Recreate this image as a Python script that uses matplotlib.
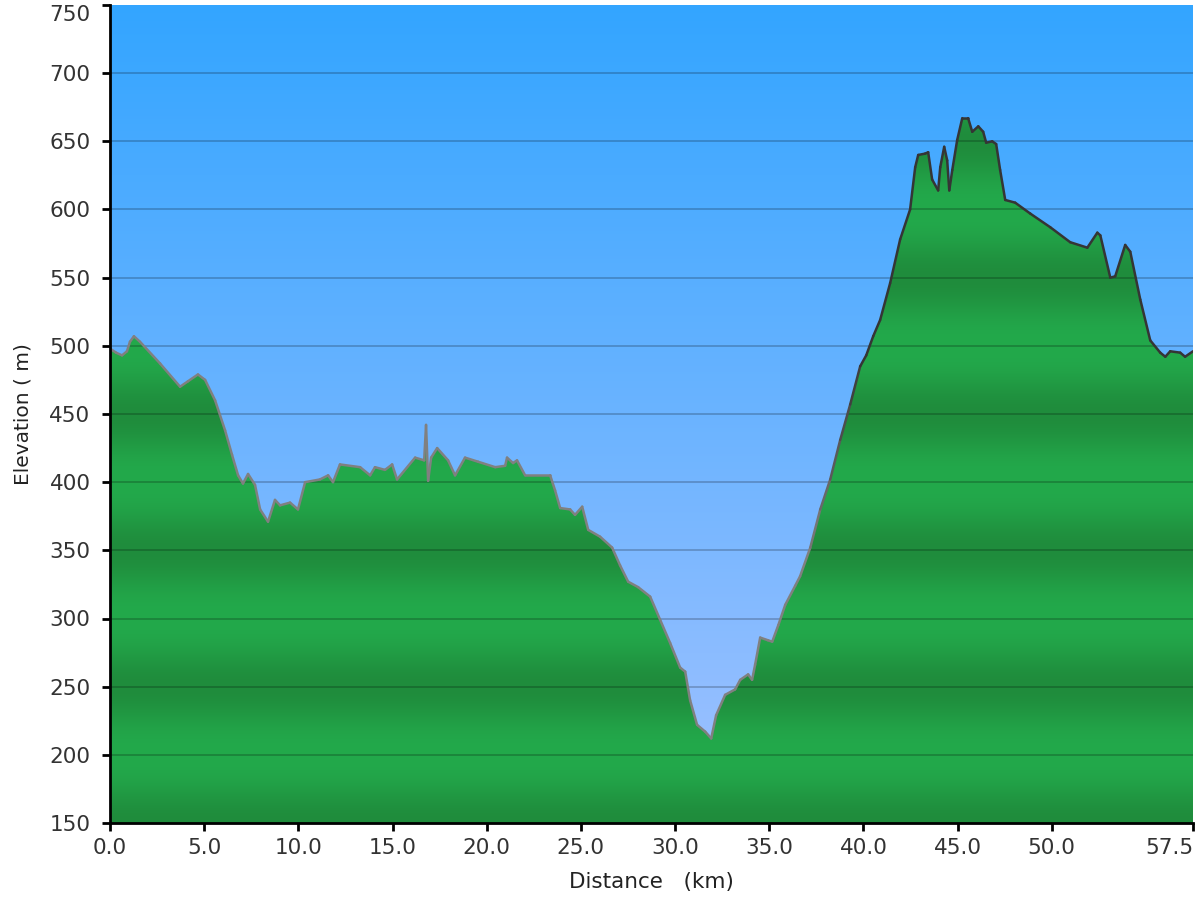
import numpy as np
import matplotlib
matplotlib.use("Agg")
import matplotlib.pyplot as plt
from matplotlib.collections import LineCollection
from matplotlib.colors import to_rgb

# ---- data ----
distance_km = [0.0, 0.32, 0.64, 0.9, 1.06, 1.27, 1.59, 2.66, 3.72, 4.14, 4.67, 5.05, 5.58, 6.11,
               6.48, 6.80, 7.06, 7.33, 7.70, 7.97, 8.39, 8.76, 9.03, 9.56, 9.98, 10.36, 11.15,
               11.58, 11.84, 12.21, 13.28, 13.81, 14.07, 14.60, 14.98, 15.24, 16.20, 16.68, 16.78,
               16.89, 17.05, 17.37, 17.95, 18.32, 18.85, 19.54, 20.45, 20.98, 21.08, 21.40, 21.61,
               22.04, 23.37, 23.63, 23.90, 24.43, 24.69, 25.07, 25.39, 26.02, 26.66, 27.08, 27.51,
               28.04, 28.68, 29.21, 29.74, 30.27, 30.54, 30.80, 31.17, 31.60, 31.92, 32.18, 32.66,
               33.19, 33.46, 33.88, 34.09, 34.25, 34.52, 34.94, 35.16, 35.48, 35.85, 36.38, 36.64,
               37.18, 37.71, 38.24, 38.77, 39.30, 39.83, 40.15, 40.52, 40.89, 41.42, 41.95, 42.48,
               42.75, 42.91, 43.28, 43.44, 43.65, 43.97, 44.08, 44.29, 44.45, 44.56, 44.72, 44.98,
               45.25, 45.56, 45.78, 46.10, 46.36, 46.52, 46.84, 47.05, 47.26, 47.53, 48.06, 48.86,
               49.92, 50.98, 51.89, 52.42, 52.58, 53.11, 53.37, 53.90, 54.17, 54.70, 55.23, 55.76,
               56.03, 56.29, 56.82, 57.08, 57.5]
elevation_m = [498, 495, 493, 496, 503, 507, 503, 487, 470, 474, 479, 475, 460, 438,
               420, 405, 399, 406, 398, 380, 371, 387, 383, 385, 380, 400, 402,
               405, 400, 413, 411, 405, 411, 409, 413, 402, 418, 416, 442,
               401, 418, 425, 416, 405, 418, 415, 411, 412, 418, 414, 416,
               405, 405, 394, 381, 380, 376, 382, 365, 360, 352, 339, 327,
               323, 316, 299, 282, 264, 261, 240, 222, 217, 212, 229, 244,
               248, 255, 259, 255, 266, 286, 284, 283, 295, 310, 324, 331,
               352, 380, 402, 431, 457, 485, 493, 507, 519, 546, 578, 600,
               631, 640, 641, 642, 622, 614, 631, 646, 636, 614, 629, 651,
               667, 667, 657, 661, 657, 649, 650, 648, 629, 607, 605, 597,
               587, 576, 572, 583, 581, 550, 551, 574, 569, 534, 504, 495,
               492, 496, 495, 492, 496]

x_ticks = [0.0, 5.0, 10.0, 15.0, 20.0, 25.0, 30.0, 35.0, 40.0, 45.0, 50.0, 57.5]
x_tick_labels = ["0.0", "5.0", "10.0", "15.0", "20.0", "25.0", "30.0", "35.0",
                 "40.0", "45.0", "50.0", "57.5"]
y_ticks = [150, 200, 250, 300, 350, 400, 450, 500, 550, 600, 650, 700, 750]

x = np.array(distance_km)
y = np.array(elevation_m, dtype=float)
xmin, xmax, ymin, ymax = 0.0, 57.5, 150, 750

fig = plt.figure(figsize=(12, 9), dpi=100)
ax = fig.add_axes([110/1200, 1-823/900, (1193-110)/1200, (823-5)/900])
ax.set_xlim(xmin, xmax)
ax.set_ylim(ymin, ymax)

# sky gradient
ys = np.linspace(0, 1, 400)[:, None]
top = np.array(to_rgb("#33A5FF"))
bot = np.array(to_rgb("#A2C2FF"))
sky = (top * ys[..., None] + bot * (1 - ys[..., None]))
sky = np.repeat(sky, 2, axis=1)
ax.imshow(sky, extent=[xmin, xmax, ymin, ymax], origin="lower", aspect="auto",
          interpolation="bilinear", zorder=0)

# green banded fill
elev = np.linspace(ymin, ymax, 1200)
t = 0.5 * (1 + np.cos(2 * np.pi * (elev - 150) / 100))
t = t ** 1.3
light = np.array(to_rgb("#23A94B"))
dark = np.array(to_rgb("#1F8C3C"))
band = light[None, :] * (1 - t[:, None]) + dark[None, :] * t[:, None]
band = np.repeat(band[:, None, :], 2, axis=1)
poly = ax.fill_between(x, y, ymin, color="none", lw=0, zorder=1)
im = ax.imshow(band, extent=[xmin, xmax, ymin, ymax], origin="lower", aspect="auto",
               interpolation="bilinear", zorder=1)
im.set_clip_path(poly.get_paths()[0], transform=ax.transData)

# outline with shade shifting from grey to dark
pts = np.column_stack([x, y])
segs = np.stack([pts[:-1], pts[1:]], axis=1)
mid = 0.5 * (x[:-1] + x[1:])
w = np.clip((mid - 37.0) / 3.0, 0, 1)[:, None]
c_grey = np.array(to_rgb("#808080"))
c_dark = np.array(to_rgb("#353535"))
cols = c_grey * (1 - w) + c_dark * w
lc = LineCollection(segs, colors=cols, linewidths=1.8, zorder=3, capstyle="round",
                    joinstyle="round")
ax.add_collection(lc)

# grid
for gy in y_ticks[1:-1]:
    ax.axhline(gy, color="black", alpha=0.22, lw=1.3, zorder=2)

ax.set_xticks(x_ticks)
ax.set_xticklabels(x_tick_labels)
ax.set_yticks(y_ticks)
for s in ["top", "right"]:
    ax.spines[s].set_visible(False)
for s in ["left", "bottom"]:
    ax.spines[s].set_linewidth(2.0)
    ax.spines[s].set_color("black")
    ax.spines[s].set_zorder(5)
ax.tick_params(axis="both", direction="out", length=6, width=2, color="black",
               labelsize=15.5, labelcolor="#333333")
ax.tick_params(axis="y", pad=8)
ax.tick_params(axis="x", pad=5)

# keep end labels inside the figure, as in the reference
ax.get_xticklabels()[-1].set_horizontalalignment("right")
ax.get_yticklabels()[-1].set_verticalalignment("top")

ax.set_xlabel("Distance   (km)", fontsize=15.5, color="#222222", labelpad=10)
ax.set_ylabel("Elevation ( m)", fontsize=14.5, color="#222222", labelpad=12)

fig.savefig("out.png", dpi=100)
